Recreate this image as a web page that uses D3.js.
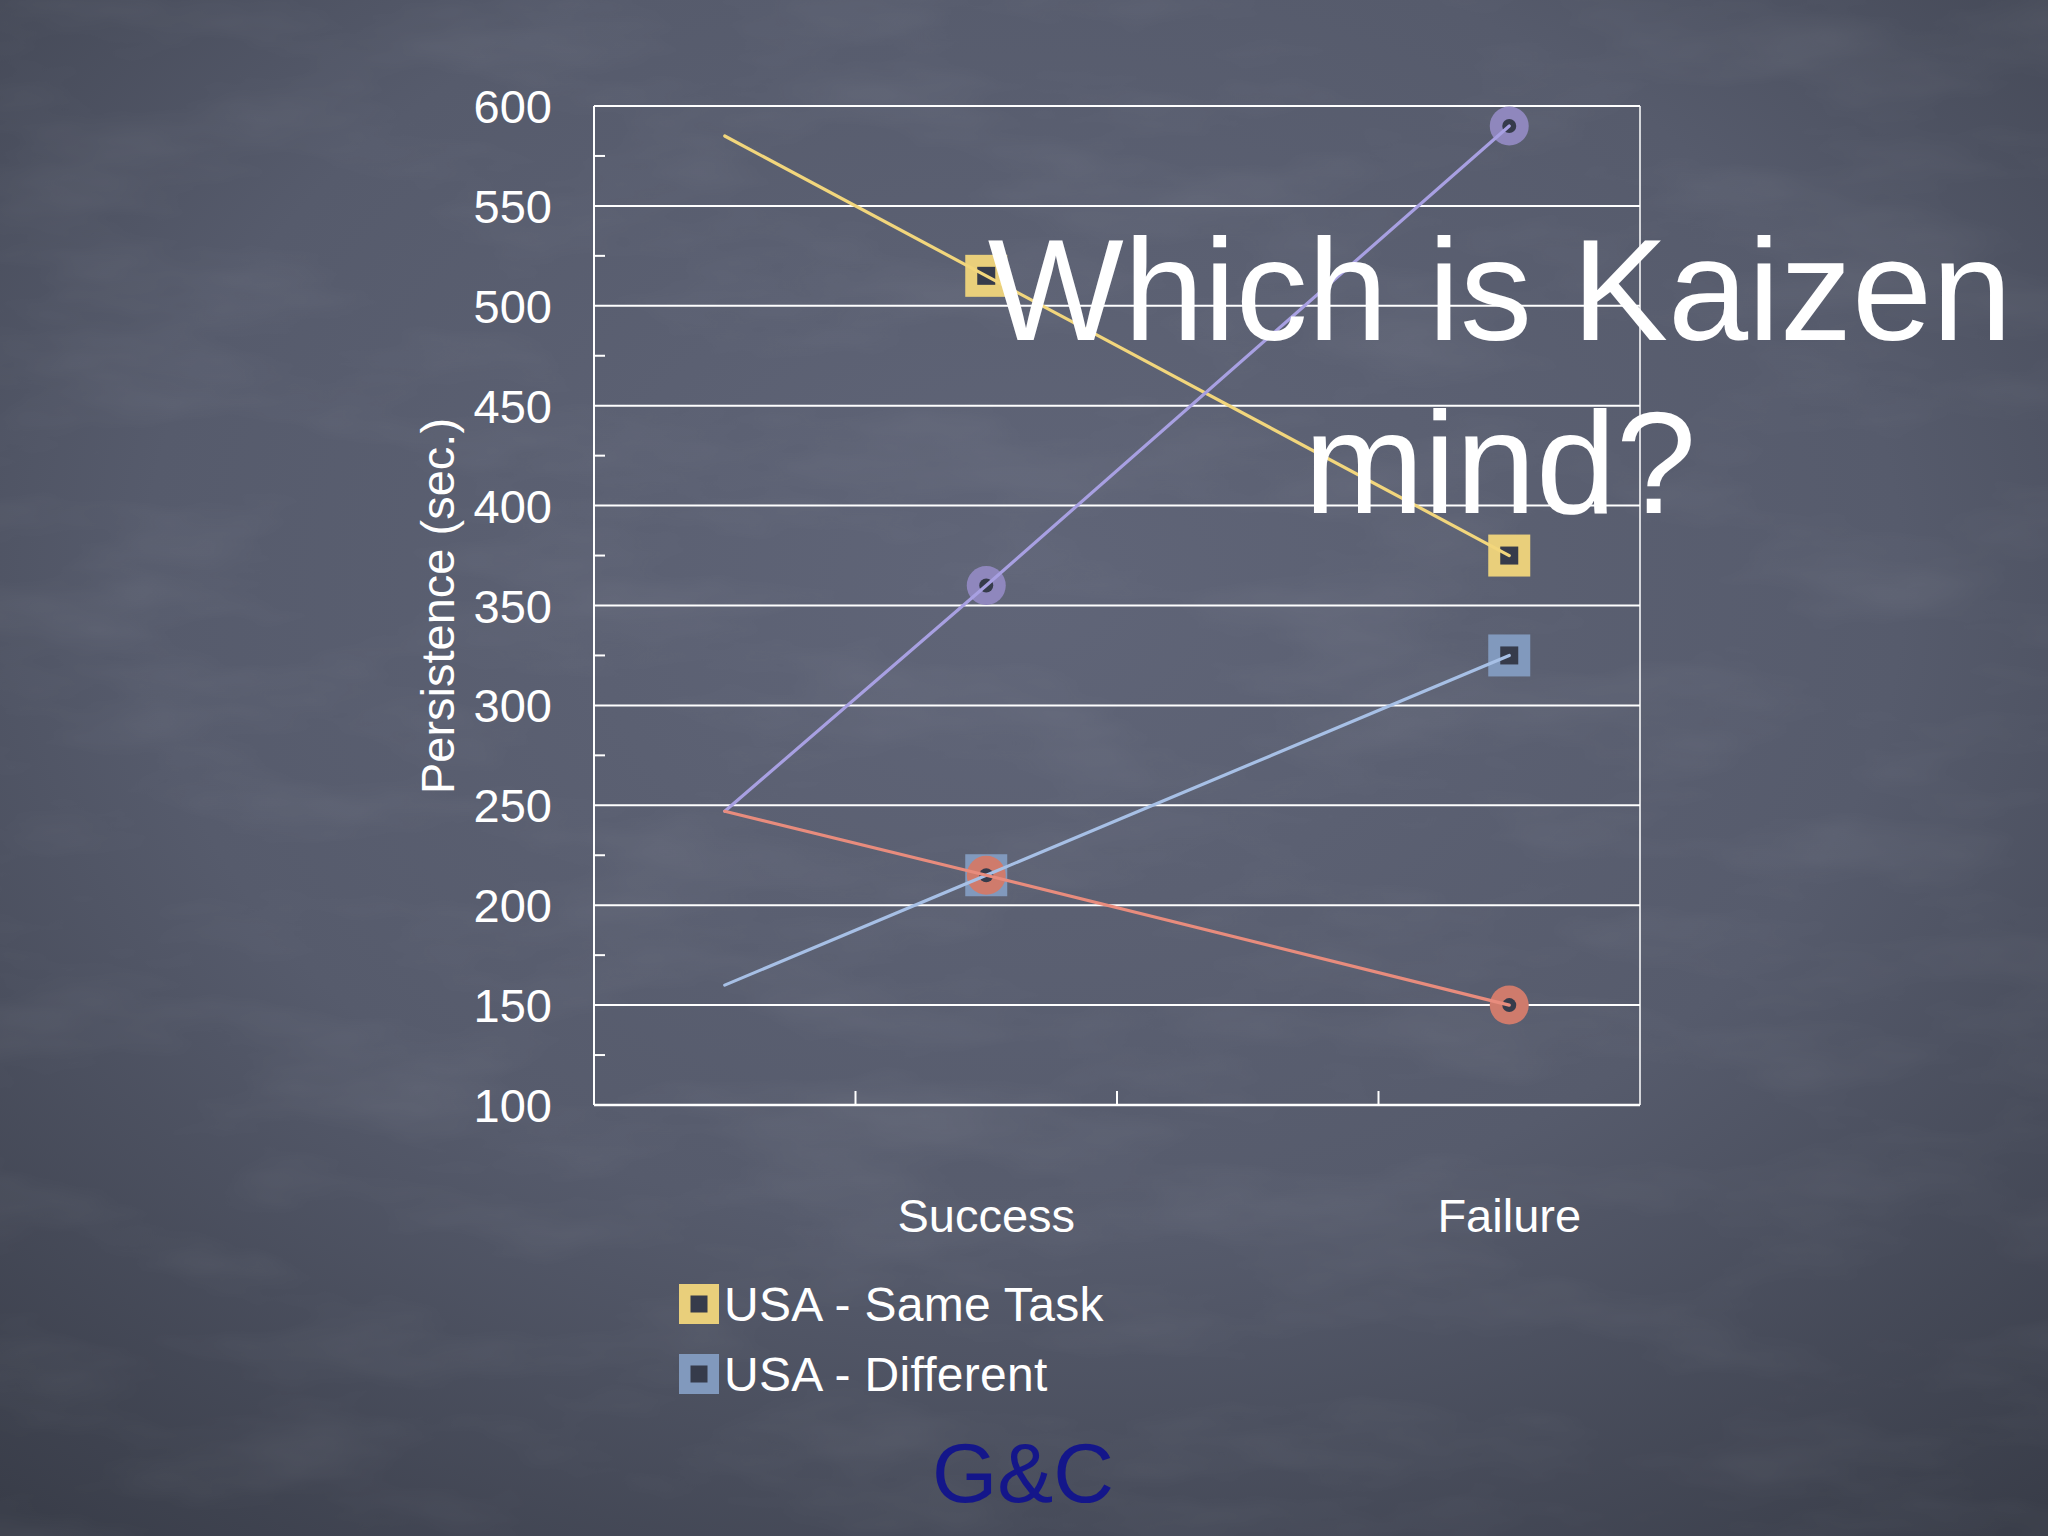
<!DOCTYPE html>
<html>
<head>
<meta charset="utf-8">
<script src="https://cdn.jsdelivr.net/npm/d3@7/dist/d3.min.js"></script>
<style>
  html, body { margin: 0; padding: 0; background: #4a4f5e; }
  svg { display: block; }
  text { font-family: "Liberation Sans", Arial, Helvetica, sans-serif; }
</style>
</head>
<body>
<div id="chart"></div>
<script>
// ---- data ----
const categories = ["", "Success", "", "Failure"];
const sameTask  = [585, 515, null, 375];   // USA - Same Task (yellow squares)
const different = [160, 215, null, 325];   // USA - Different (blue squares)
const seriesC   = [247, 360, null, 590];   // purple circles
const seriesD   = [247, 215, null, 150];   // red circles
const yTicks = [100, 150, 200, 250, 300, 350, 400, 450, 500, 550, 600];
const legendLabels = ["USA - Same Task", "USA - Different"];
const yTitle = "Persistence (sec.)";
const titleLines = ["Which is Kaizen", "mind?"];
const footer = "G&C";

// ---- styles ----
const W = 2048, H = 1536;
const plot = { left: 594, right: 1640, top: 106, bottom: 1105 };
const seriesList = [
  { values: sameTask,  shape: "square", marker: "#e9cf7b", line: "#f2d67c" },
  { values: different, shape: "square", marker: "#8199bd", line: "#a7c0e6" },
  { values: seriesC,   shape: "circle", marker: "#8f87bd", line: "#a8a0e2" },
  { values: seriesD,   shape: "circle", marker: "#cf7b6c", line: "#e88c7d" }
];
const innerDark = "#363b4b";

const svg = d3.select("#chart").append("svg").attr("width", W).attr("height", H);
const defs = svg.append("defs");
const rg = defs.append("radialGradient").attr("id", "bg")
  .attr("cx", "50%").attr("cy", "38%").attr("r", "78%");
rg.append("stop").attr("offset", "0%").attr("stop-color", "#606578");
rg.append("stop").attr("offset", "55%").attr("stop-color", "#565b6c");
rg.append("stop").attr("offset", "100%").attr("stop-color", "#393d49");
const f = defs.append("filter").attr("id", "chalk").attr("x", 0).attr("y", 0).attr("width", "100%").attr("height", "100%");
f.append("feTurbulence").attr("type", "fractalNoise").attr("baseFrequency", "0.004 0.012").attr("numOctaves", 4).attr("seed", 7);
f.append("feColorMatrix").attr("type", "matrix")
  .attr("values", "0 0 0 0 1  0 0 0 0 1  0 0 0 0 1  0.5 0 0 0 -0.22");

svg.append("rect").attr("width", W).attr("height", H).attr("fill", "url(#bg)");
svg.append("rect").attr("width", W).attr("height", H).attr("filter", "url(#chalk)").attr("opacity", 0.25);

// ---- scales ----
const x = d3.scaleBand().domain(d3.range(categories.length)).range([plot.left, plot.right]).padding(0);
const cx = i => x(i) + x.bandwidth() / 2;
const y = d3.scaleLinear().domain([100, 600]).range([plot.bottom, plot.top]);

// gridlines
svg.append("g").selectAll("line").data(yTicks).join("line")
  .attr("x1", plot.left).attr("x2", plot.right)
  .attr("y1", d => y(d)).attr("y2", d => y(d))
  .attr("stroke", "#ffffff").attr("stroke-width", 2);

// minor ticks on y axis (between labels)
const minor = d3.range(125, 600, 50);
svg.append("g").selectAll("line").data(minor).join("line")
  .attr("x1", plot.left).attr("x2", plot.left + 11)
  .attr("y1", d => y(d)).attr("y2", d => y(d))
  .attr("stroke", "#ffffff").attr("stroke-width", 2);

// frame
svg.append("line").attr("x1", plot.left).attr("x2", plot.left).attr("y1", plot.top).attr("y2", plot.bottom)
  .attr("stroke", "#fff").attr("stroke-width", 2);
svg.append("line").attr("x1", plot.right).attr("x2", plot.right).attr("y1", plot.top).attr("y2", plot.bottom)
  .attr("stroke", "#fff").attr("stroke-width", 1.5);
svg.append("line").attr("x1", plot.left).attr("x2", plot.right).attr("y1", plot.bottom).attr("y2", plot.bottom)
  .attr("stroke", "#fff").attr("stroke-width", 2.5);

// x-axis ticks at band boundaries
svg.append("g").selectAll("line").data(d3.range(1, categories.length)).join("line")
  .attr("x1", d => x(d)).attr("x2", d => x(d))
  .attr("y1", plot.bottom).attr("y2", plot.bottom - 14)
  .attr("stroke", "#fff").attr("stroke-width", 2);

// y tick labels
svg.append("g").selectAll("text").data(yTicks).join("text")
  .attr("x", 552).attr("y", d => y(d) + 17)
  .attr("text-anchor", "end").attr("fill", "#fff").attr("font-size", 47)
  .text(d => d);

// y title
svg.append("text").attr("transform", "translate(454,606) rotate(-90)")
  .attr("text-anchor", "middle").attr("fill", "#fff").attr("font-size", 47)
  .text(yTitle);

// x labels
svg.append("g").selectAll("text").data(categories.map((c, i) => ({ c, i })).filter(d => d.c)).join("text")
  .attr("x", d => cx(d.i)).attr("y", 1232)
  .attr("text-anchor", "middle").attr("fill", "#fff").attr("font-size", 47)
  .text(d => d.c);

// markers
const mg = svg.append("g");
seriesList.forEach(s => {
  const pts = s.values.map((v, i) => ({ v, i })).filter(d => d.v != null && categories[d.i]);
  pts.forEach(p => {
    const px = cx(p.i), py = y(p.v);
    if (s.shape === "square") {
      mg.append("rect").attr("x", px - 21).attr("y", py - 21).attr("width", 42).attr("height", 42).attr("fill", s.marker);
      mg.append("rect").attr("x", px - 9).attr("y", py - 9).attr("width", 18).attr("height", 18).attr("fill", innerDark);
    } else {
      mg.append("circle").attr("cx", px).attr("cy", py).attr("r", 19.5).attr("fill", s.marker);
      mg.append("circle").attr("cx", px).attr("cy", py).attr("r", 7).attr("fill", innerDark);
    }
  });
});

// lines
const lineGen = d3.line().defined(d => d.v != null).x(d => cx(d.i)).y(d => y(d.v));
seriesList.forEach(s => {
  const pts = s.values.map((v, i) => ({ v, i })).filter(d => d.v != null);
  svg.append("path").attr("d", lineGen(pts)).attr("fill", "none")
    .attr("stroke", s.line).attr("stroke-width", 3.2).attr("stroke-linecap", "round");
});

// legend
const lg = svg.append("g");
legendLabels.forEach((lab, k) => {
  const ly = 1304 + k * 70;
  lg.append("rect").attr("x", 679).attr("y", ly - 20).attr("width", 40).attr("height", 40).attr("fill", seriesList[k].marker);
  lg.append("rect").attr("x", 690.5).attr("y", ly - 8.5).attr("width", 17).attr("height", 17).attr("fill", innerDark);
  lg.append("text").attr("x", 724).attr("y", ly + 16.5).attr("fill", "#fff").attr("font-size", 48)
    .attr("letter-spacing", 0.3).text(lab);
});

// title
svg.append("g").selectAll("text").data(titleLines).join("text")
  .attr("x", 1500).attr("y", (d, i) => 340 + i * 173)
  .attr("text-anchor", "middle").attr("fill", "#fff").attr("font-size", 144)
  .text(d => d);

// footer
svg.append("text").attr("x", 1023).attr("y", 1502).attr("text-anchor", "middle")
  .attr("fill", "#14168a").attr("font-size", 84).text(footer);
</script>
</body>
</html>
